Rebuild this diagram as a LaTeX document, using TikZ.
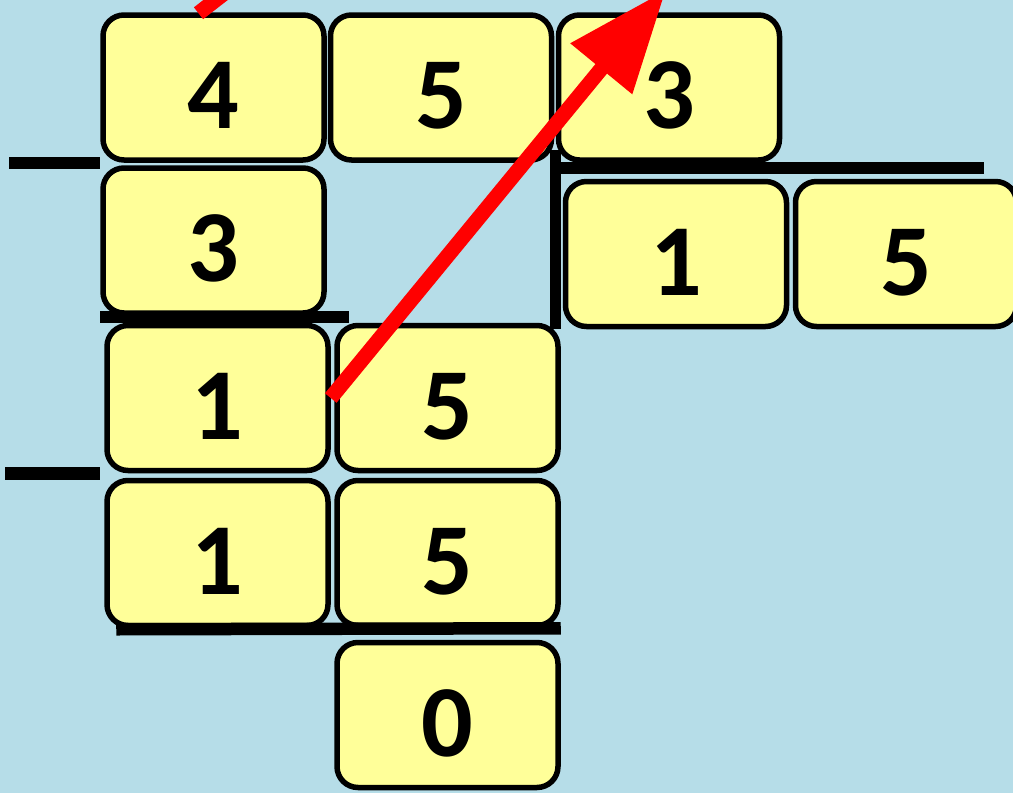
\documentclass[tikz,border=0pt]{standalone}
\usepackage{fontspec}
\setmainfont{Carlito}
\usetikzlibrary{arrows.meta, positioning}
\definecolor{fondoAzul}{HTML}{B6DDE8}
\definecolor{casilla}{HTML}{FFFF99}
\definecolor{rojoFlecha}{HTML}{FF0000}

\begin{document}
\begin{tikzpicture}[x=1pt, y=-1pt,
        cifra/.style={draw=black, line width=5.5pt, fill=casilla, rounded corners=21pt,
            minimum width=221pt, minimum height=145pt, inner sep=0pt,
            text height=82pt, text depth=0pt, font=\fontsize{102}{102}\selectfont\bfseries},
        raya/.style={line width=12.5pt, black},
        flecha/.style={line width=15pt, rojoFlecha, -{Triangle[length=102pt, width=76pt]}}
    ]
        \fill[fondoAzul] (0,0) rectangle (1013,793);
        \useasboundingbox (0,0) rectangle (1013,793);
        \clip (0,0) rectangle (1013,793);

        % dividend and divisor
        \node[cifra] (div4) at (213.5,87.5) {4};
        \node[cifra, right=1pt of div4] (div5) {5};
        \node[cifra, right=1.5pt of div5] (div3) {3};

        % quotient
        \node[cifra, below=16pt of div3, xshift=7pt] (coc1) {1};
        \node[cifra, right=3.5pt of coc1] (coc5) {5};

        % steps
        \node[cifra, below=2.5pt of div4] (res3) {3};
        \node[cifra, below=7pt of res3, xshift=4pt] (baj1) {1};
        \node[cifra, right=3.5pt of baj1] (baj5) {5};
        \node[cifra, below=4.5pt of baj1] (sub1) {1};
        \node[cifra, right=3.5pt of sub1] (sub5) {5};
        \node[cifra, below=11.5pt of sub5] (resto) {0};

        \draw[raya] ([xshift=-91pt]div4.south west) -- (div4.south west);
        \draw[raya] ([yshift=-1pt]res3.south west) -- ([xshift=22pt,yshift=-1pt]res3.south east);
        \draw[raya] ([xshift=-99pt]baj1.south west) -- ([xshift=-4pt]baj1.south west);
        \draw[raya] ([xshift=12pt,yshift=-1pt]sub1.south west) -- (sub5.south east);

        \coordinate (esquina) at ([xshift=-7pt,yshift=11pt]coc1.north west);
        \draw[raya, line width=11pt] ([yshift=18pt]esquina) -- (esquina |- coc1.south);
        \draw[raya] ([xshift=-5pt]esquina) -- ([xshift=-35pt]esquina -| coc5.north east);

        \coordinate (puntaFlecha) at (666,-10);
        \coordinate (fuera) at (262,-36);
        \draw[flecha] (baj1.east) -- (puntaFlecha);
        \draw[line width=15pt, rojoFlecha] ([xshift=-15pt,yshift=-1pt]div4.north) -- (fuera);
    \end{tikzpicture}
\end{document}
